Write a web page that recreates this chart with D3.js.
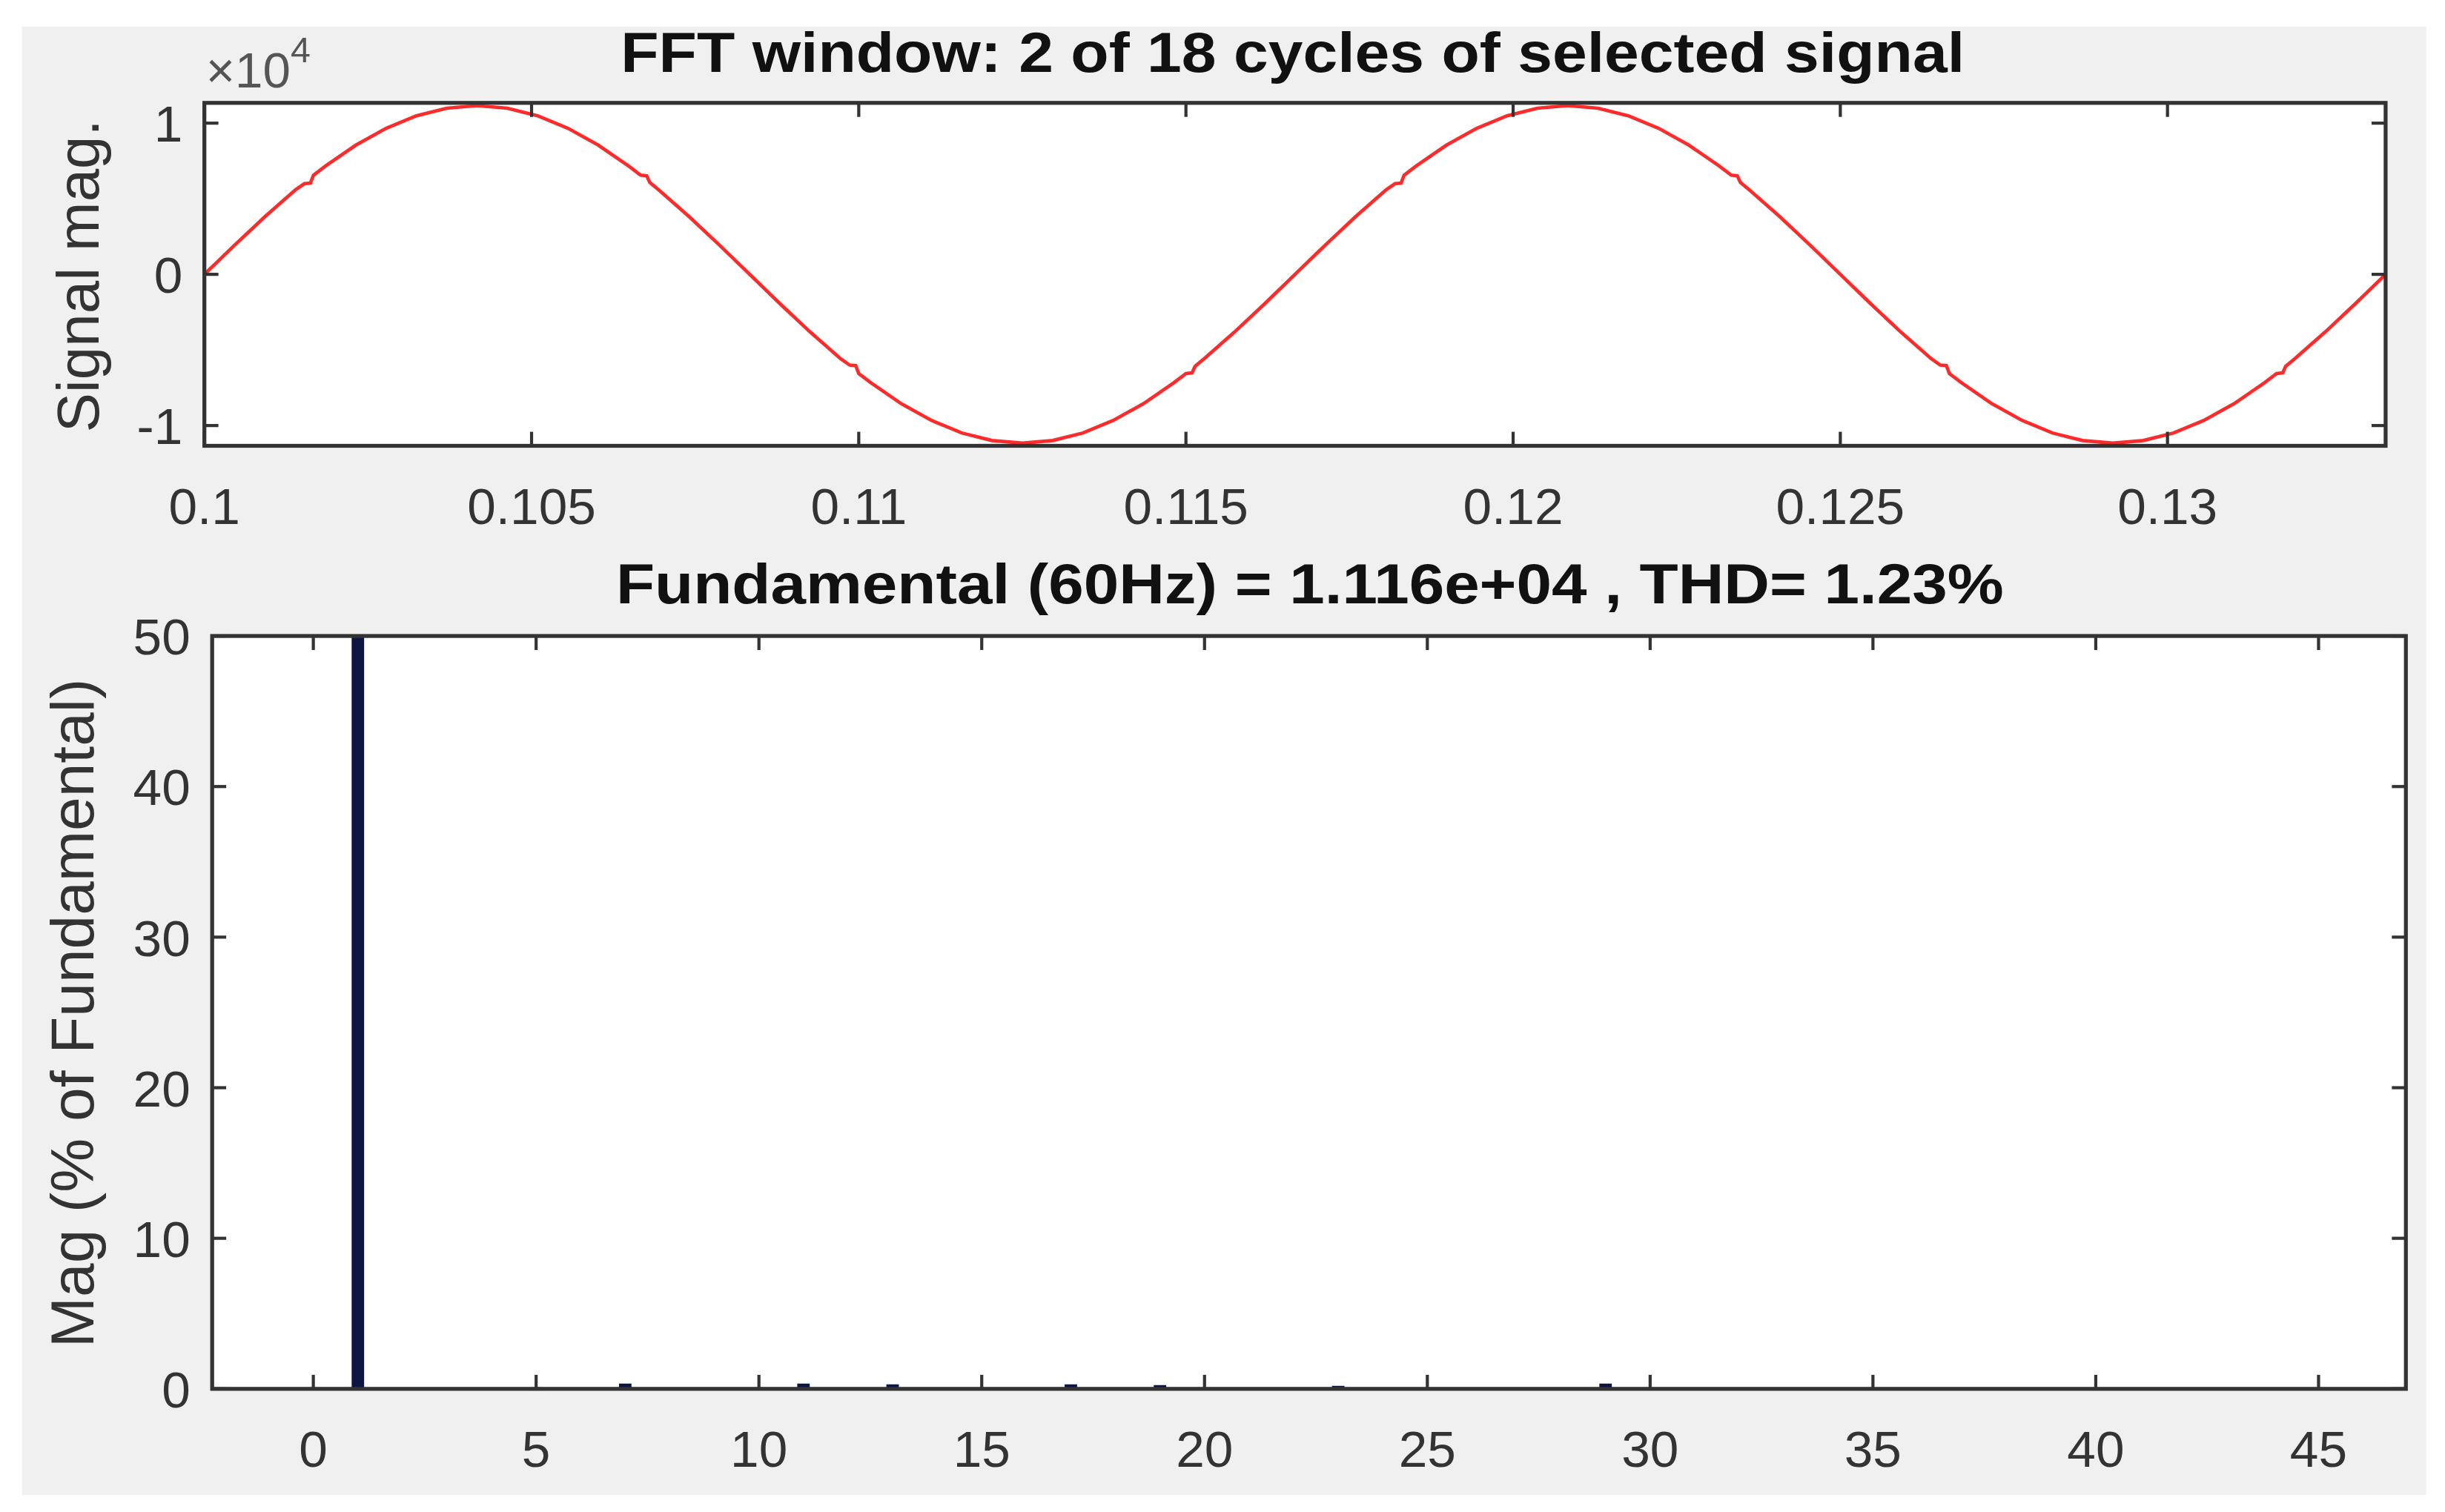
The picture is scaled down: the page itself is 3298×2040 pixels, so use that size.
<!DOCTYPE html>
<html>
<head>
<meta charset="utf-8">
<script src="https://cdn.jsdelivr.net/npm/d3@7"></script>
<style>
  body { margin: 0; background: #fff; }
  text { font-family: "Liberation Sans", Arial, sans-serif; }
</style>
</head>
<body>
<svg id="chart" width="3298" height="2040" viewBox="0 0 1568 970"></svg>
<script>
// one cycle of the selected signal (phase in degrees, value in units of 1e4)
var cyclePhase = [0, 10, 20, 30, 33, 35, 36, 40, 50, 60, 70, 80, 90, 100, 110, 120, 130, 140, 144, 146, 147, 150, 160, 170,
                  180, 190, 200, 210, 213, 215, 216, 220, 230, 240, 250, 260, 270, 280, 290, 300, 310, 320, 324, 326, 327, 330, 340, 350, 360];
var cycleValue = [0, 0.194, 0.382, 0.558, 0.600, 0.603, 0.656, 0.717, 0.855, 0.966, 1.049, 1.099, 1.116, 1.099, 1.049, 0.966, 0.855, 0.717, 0.656, 0.652, 0.608, 0.558, 0.382, 0.194,
                  0, -0.194, -0.382, -0.558, -0.600, -0.603, -0.656, -0.717, -0.855, -0.966, -1.049, -1.099, -1.116, -1.099, -1.049, -0.966, -0.855, -0.717, -0.656, -0.652, -0.608, -0.558, -0.382, -0.194, 0];
var cycles = 2, tStart = 0.1, fundamental = 60;
var timeTicks = [0.1, 0.105, 0.11, 0.115, 0.12, 0.125, 0.13];
var signalTicks = [-1, 0, 1];

// harmonic spectrum (% of fundamental)
var harmonicOrder = [1, 5, 7, 11, 13, 17, 19, 23, 29];
var harmonicMag = [100, 0.1, 0.35, 0.35, 0.3, 0.3, 0.25, 0.2, 0.35];
var harmonicTicks = [0, 5, 10, 15, 20, 25, 30, 35, 40, 45];
var magTicks = [0, 10, 20, 30, 40, 50];

var svg = d3.select("#chart");
var ink = "#333";

svg.append("rect").attr("x", 14).attr("y", 17).attr("width", 1542).attr("height", 942).attr("fill", "#f0f0f0");

function box(x0, x1, y0, y1) {
    svg.append("rect").attr("x", x0).attr("y", y0).attr("width", x1 - x0).attr("height", y1 - y0)
        .attr("fill", "#fff");
}
function frame(x0, x1, y0, y1, xs, ys, xt, yt, xfmt, yfmt) {
    var g = svg.append("g");
    var tl = 9;
    xt.forEach(function (v) {
        g.append("line").attr("x1", xs(v)).attr("x2", xs(v)).attr("y1", y1).attr("y2", y1 - tl).attr("stroke", ink).attr("stroke-width", 2);
        g.append("line").attr("x1", xs(v)).attr("x2", xs(v)).attr("y1", y0).attr("y2", y0 + tl).attr("stroke", ink).attr("stroke-width", 2);
        g.append("text").attr("x", xs(v)).attr("y", y1 + 50).attr("text-anchor", "middle")
            .attr("font-size", 33).attr("fill", ink).text(xfmt(v));
    });
    yt.forEach(function (v) {
        g.append("line").attr("y1", ys(v)).attr("y2", ys(v)).attr("x1", x0).attr("x2", x0 + tl).attr("stroke", ink).attr("stroke-width", 2);
        g.append("line").attr("y1", ys(v)).attr("y2", ys(v)).attr("x1", x1).attr("x2", x1 - tl).attr("stroke", ink).attr("stroke-width", 2);
        g.append("text").attr("x", x0 - 14).attr("y", ys(v) + 12).attr("text-anchor", "end")
            .attr("font-size", 33).attr("fill", ink).text(yfmt(v));
    });
    g.append("rect").attr("x", x0).attr("y", y0).attr("width", x1 - x0).attr("height", y1 - y0)
        .attr("fill", "none").attr("stroke", ink).attr("stroke-width", 2.5);
}

// ---- top: signal
var tx0 = 131, tx1 = 1530, ty0 = 66, ty1 = 286;
var x = d3.scaleLinear().domain([tStart, tStart + cycles / fundamental]).range([tx0, tx1]);
var y = d3.scaleLinear().domain([-1.134, 1.134]).range([ty1, ty0]);
box(tx0, tx1, ty0, ty1);

var signal = [];
for (var c = 0; c < cycles; c++) {
    cyclePhase.forEach(function (p, i) {
        if (c > 0 && i === 0) return;
        signal.push({t: tStart + (c + p / 360) / fundamental, v: cycleValue[i]});
    });
}
svg.append("path").datum(signal)
    .attr("fill", "none").attr("stroke", "#ff2a2a").attr("stroke-width", 2.2)
    .attr("d", d3.line().x(function (d) { return x(d.t); }).y(function (d) { return y(d.v); }));

frame(tx0, tx1, ty0, ty1, x, y, timeTicks, signalTicks, function (v) { return String(+v.toFixed(3)); }, function (v) { return v; });

svg.append("text").attr("x", 829).attr("y", 46).attr("text-anchor", "middle").attr("font-size", 36)
    .attr("textLength", 862).attr("lengthAdjust", "spacingAndGlyphs")
    .attr("font-weight", "bold").attr("fill", "#111").text("FFT window: 2 of 18 cycles of selected signal");
var ex = svg.append("text").attr("x", 132).attr("y", 56).attr("font-size", 32).attr("fill", "#555");
ex.append("tspan").text("×10");
ex.append("tspan").attr("dy", -16).attr("font-size", 23).text("4");
svg.append("text").attr("transform", "translate(63,177) rotate(-90)").attr("text-anchor", "middle")
    .attr("font-size", 38).attr("fill", ink).text("Signal mag.");

// ---- bottom: spectrum
var bx0 = 136, bx1 = 1543, by0 = 408, by1 = 891;
var hx = d3.scaleLinear().domain([-2.27, 46.96]).range([bx0, bx1]);
var hy = d3.scaleLinear().domain([0, 50]).range([by1, by0]);
box(bx0, bx1, by0, by1);

var bars = svg.append("g");
bars.selectAll("rect").data(harmonicOrder).enter().append("rect")
    .attr("x", function (d) { return hx(d - 0.14); })
    .attr("width", hx(0.28) - hx(0))
    .attr("y", function (d, i) { return hy(Math.min(harmonicMag[i], 50)); })
    .attr("height", function (d, i) { return Math.max(by1 - hy(Math.min(harmonicMag[i], 50)), 2); })
    .attr("fill", "#0d1640");

frame(bx0, bx1, by0, by1, hx, hy, harmonicTicks, magTicks, function (v) { return v; }, function (v) { return v; });

svg.append("text").attr("x", 840).attr("y", 387).attr("text-anchor", "middle").attr("font-size", 36)
    .attr("textLength", 890).attr("lengthAdjust", "spacingAndGlyphs")
    .attr("font-weight", "bold").attr("fill", "#111").text("Fundamental (60Hz) = 1.116e+04 , THD= 1.23%");
svg.append("text").attr("transform", "translate(60,650) rotate(-90)").attr("text-anchor", "middle")
    .attr("font-size", 39).attr("fill", ink).text("Mag (% of Fundamental)");
</script>
</body>
</html>
